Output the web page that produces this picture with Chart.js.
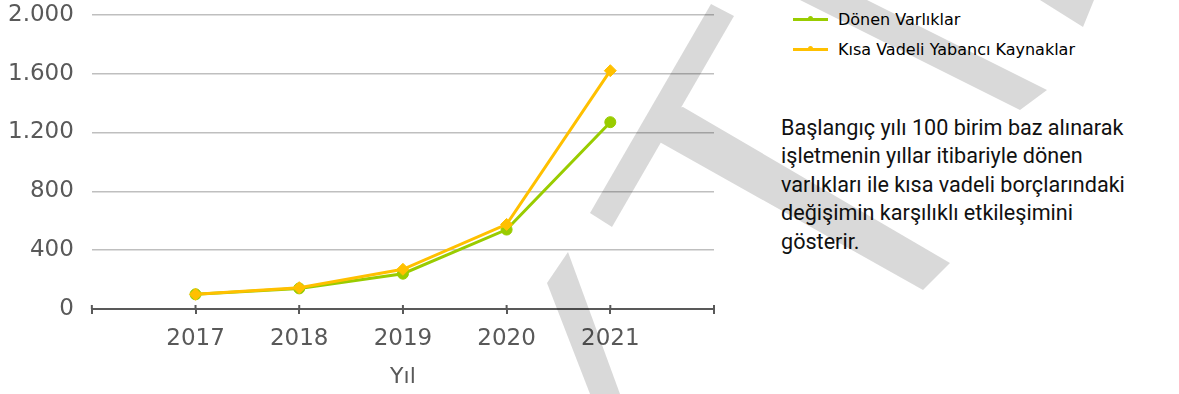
<!DOCTYPE html>
<html>
<head>
<meta charset="utf-8">
<title>Dönen Varlıklar / Kısa Vadeli Yabancı Kaynaklar</title>
<script src="https://cdn.jsdelivr.net/npm/chart.js@4.4.0/dist/chart.umd.min.js"></script>
<style>
  html, body { margin: 0; padding: 0; background: #fff; }
  body { width: 1179px; height: 394px; position: relative; overflow: hidden; }
  #wrap { position: absolute; left: -10px; top: -17px; width: 740px; height: 411px; }
  #legend { position: absolute; left: 793px; top: 4px; font-family: "DejaVu Sans", sans-serif; font-size: 16px; color: #000; }
  .item { height: 30px; display: flex; align-items: center; }
  .swatch { position: relative; width: 35px; height: 3px; margin-right: 10px; }
  .swatch span { position: absolute; left: 15px; top: -1.5px; width: 5px; height: 5px; border-radius: 50%; }
  #note { position: absolute; left: 781px; top: 114px; font-family: Roboto, sans-serif; font-size: 21.6px; line-height: 28.4px; color: #111; }
  #mark { position: absolute; left: 0; top: 0; pointer-events: none; }
</style>
</head>
<body>
<div id="wrap"><canvas id="myChart"></canvas></div>
<div id="legend"></div>
<div id="note">Başlangıç yılı 100 birim baz alınarak<br>işletmenin yıllar itibariyle dönen<br>varlıkları ile kısa vadeli borçlarındaki<br>değişimin karşılıklı etkileşimini<br>gösterir.</div>
<svg id="mark" width="1179" height="394">
  <g fill="#000" opacity="0.15">
    <polygon points="711,4 734,16 612,227 590,213"/>
    <polygon points="676,108 683,107 950,263 923,290 656,140"/>
    <polygon points="800,0 867,0 1047,90 1020,110"/>
    <polygon points="1040,0 1094,0 1083,27"/>
    <polygon points="568,252 620,394 590,394 547,283"/>
  </g>
</svg>
<script>
  const years = [2017, 2018, 2019, 2020, 2021];
  const donenVarliklar = [100, 140, 240, 540, 1270];
  const kisaVadeli = [100, 145, 270, 575, 1620];
  const seriesNames = ['Dönen Varlıklar', 'Kısa Vadeli Yabancı Kaynaklar'];
  const seriesColors = ['#99cc00', '#ffc000'];
  const yTicks = [0, 400, 800, 1200, 1600, 2000];

  const toPoints = vals => vals.map((v, i) => ({ x: years[i], y: v }));

  // tick marks that cross the x axis line
  const crossTicks = {
    id: 'crossTicks',
    afterDraw(chart) {
      const x = chart.scales.x, ctx = chart.ctx, y0 = chart.chartArea.bottom;
      ctx.save();
      ctx.strokeStyle = '#595959';
      ctx.lineWidth = 2;
      x.ticks.forEach((t, i) => {
        const px = x.getPixelForTick(i);
        ctx.beginPath();
        ctx.moveTo(px, y0 - 4);
        ctx.lineTo(px, y0);
        ctx.stroke();
      });
      ctx.restore();
    }
  };

  const ctx = document.getElementById('myChart').getContext('2d');
  const myChart = new Chart(ctx, {
    type: 'line',
    data: {
      datasets: [
        {
          label: seriesNames[0],
          data: toPoints(donenVarliklar),
          borderColor: seriesColors[0],
          backgroundColor: seriesColors[0],
          borderWidth: 3,
          pointStyle: 'circle',
          pointRadius: 5.5,
          pointBorderWidth: 1,
          order: 2
        },
        {
          label: seriesNames[1],
          data: toPoints(kisaVadeli),
          borderColor: seriesColors[1],
          backgroundColor: seriesColors[1],
          borderWidth: 3,
          pointStyle: 'rectRot',
          pointRadius: 6,
          pointBorderWidth: 1,
          order: 1
        }
      ]
    },
    options: {
      responsive: true,
      maintainAspectRatio: false,
      animation: false,
      layout: { padding: { left: 0, right: 16, top: 0, bottom: 4 } },
      plugins: { legend: { display: false }, tooltip: { enabled: false } },
      scales: {
        x: {
          type: 'linear',
          min: years[0] - 1,
          max: years[years.length - 1] + 1,
          ticks: {
            stepSize: 1,
            color: '#595959',
            font: { family: 'DejaVu Sans', size: 23 },
            padding: 11,
            maxRotation: 0,
            callback: v => years.includes(v) ? String(v) : ''
          },
          grid: { drawOnChartArea: false, drawTicks: true, tickLength: 5, color: '#595959', lineWidth: 2 },
          border: { color: '#595959', width: 2 },
          title: {
            display: true,
            text: 'Yıl',
            color: '#595959',
            font: { family: 'DejaVu Sans', size: 22 },
            padding: { top: 0, bottom: 0 }
          }
        },
        y: {
          min: 0,
          max: 2000,
          afterBuildTicks: s => { s.ticks = yTicks.map(v => ({ value: v })); },
          ticks: {
            color: '#595959',
            font: { family: 'DejaVu Sans', size: 23 },
            padding: 18,
            callback: v => v.toLocaleString('tr-TR')
          },
          grid: { color: '#bfbfbf', lineWidth: 1.5, drawTicks: false },
          border: { display: false }
        }
      }
    },
    plugins: [crossTicks]
  });

  // legend built from the datasets
  const legend = document.getElementById('legend');
  myChart.data.datasets.forEach(ds => {
    const item = document.createElement('div');
    item.className = 'item';
    item.innerHTML = '<div class="swatch" style="background:' + ds.borderColor + '"><span style="background:' + ds.borderColor + '"></span></div>' + ds.label;
    legend.appendChild(item);
  });
</script>
</body>
</html>
